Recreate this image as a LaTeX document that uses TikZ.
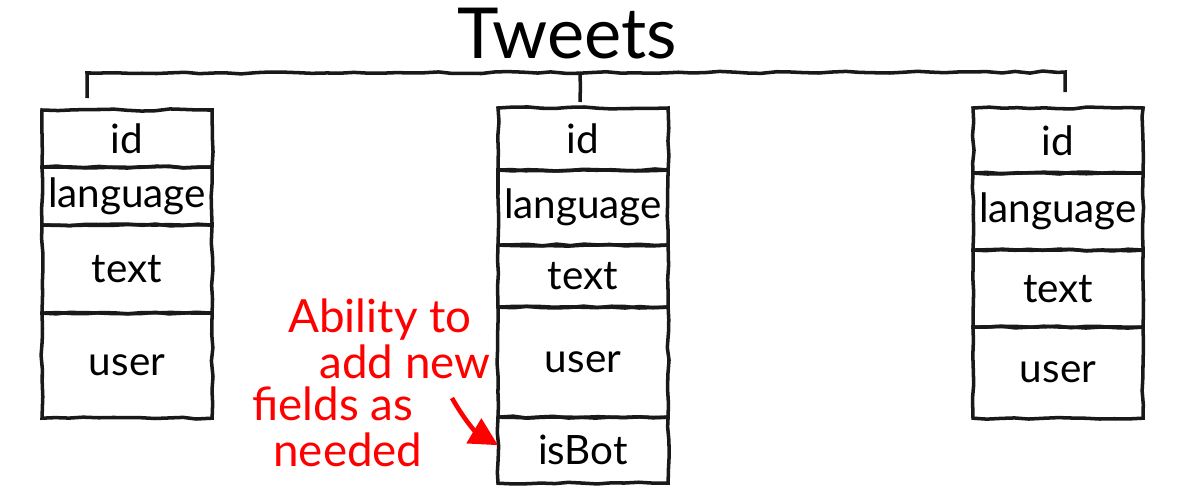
\documentclass[tikz,border=0pt]{standalone}
\usepackage{fontspec}
\setmainfont{Lato}
\usetikzlibrary{positioning,decorations.pathmorphing,arrows.meta}

\begin{document}
\begin{tikzpicture}[x=0.01cm,y=-0.01cm]
\tikzset{
  rough/.style={decorate,decoration={random steps,segment length=4pt,amplitude=0.3pt}},
  cell/.style={draw=black!90,rough,line width=1pt,minimum width=1.7cm,inner sep=0pt,outer sep=0pt,font=\fontsize{11.5}{14}\selectfont},
  note/.style={text=red,inner sep=0pt,font=\fontsize{13}{15}\selectfont}
}
\useasboundingbox (0,0) rectangle (1200,500);
\node[font=\fontsize{20}{24}\selectfont] (title) at (567,34) {Tweets};
% bracket
\coordinate (brL) at (87,73);
\coordinate (brM) at (580,73);
\coordinate (brR) at (1065,72);
\coordinate (tkL) at (87,98);
\coordinate (tkM) at (580,102);
\coordinate (tkR) at (1065,92);
\draw [black!90,rough,line width=1pt] (tkL) -- (brL) -- (brR) -- (tkR);
\draw [black!90,rough,line width=1pt] (brM) -- (tkM);
% left tweet
\node[cell,minimum height=0.57cm,anchor=north west] (l1) at (42,110) {id};
\node[cell,minimum height=0.58cm,below=0pt of l1] (l2) {language};
\node[cell,minimum height=0.88cm,below=0pt of l2] (l3) {text};
\node[cell,minimum height=1.05cm,below=0pt of l3] (l4) {user};
% middle tweet
\node[cell,minimum height=0.62cm,anchor=north west] (m1) at (498,108) {id};
\node[cell,minimum height=0.75cm,below=0pt of m1] (m2) {language};
\node[cell,minimum height=0.62cm,below=0pt of m2] (m3) {text};
\node[cell,minimum height=1.10cm,below=0pt of m3] (m4) {user};
\node[cell,minimum height=0.66cm,below=0pt of m4] (m5) {isBot};
% right tweet
\node[cell,minimum height=0.65cm,anchor=north west] (r1) at (973,108) {id};
\node[cell,minimum height=0.77cm,below=0pt of r1] (r2) {language};
\node[cell,minimum height=0.77cm,below=0pt of r2] (r3) {text};
\node[cell,minimum height=0.91cm,below=0pt of r3] (r4) {user};
% note
\node[note] (n1) at (380,320) {Ability to};
\node[note] (n2) at (405,362) {add new};
\node[note] (n3) at (333,404) {fields as};
\node[note] (n4) at (348,450) {needed};
\coordinate (arrS) at (452,398);
\draw [red,line width=1.3pt,-{Triangle[length=8pt,width=8pt]}] (arrS) to[bend right=15] ([yshift=0.05cm]m5.west);
\end{tikzpicture}
\end{document}
